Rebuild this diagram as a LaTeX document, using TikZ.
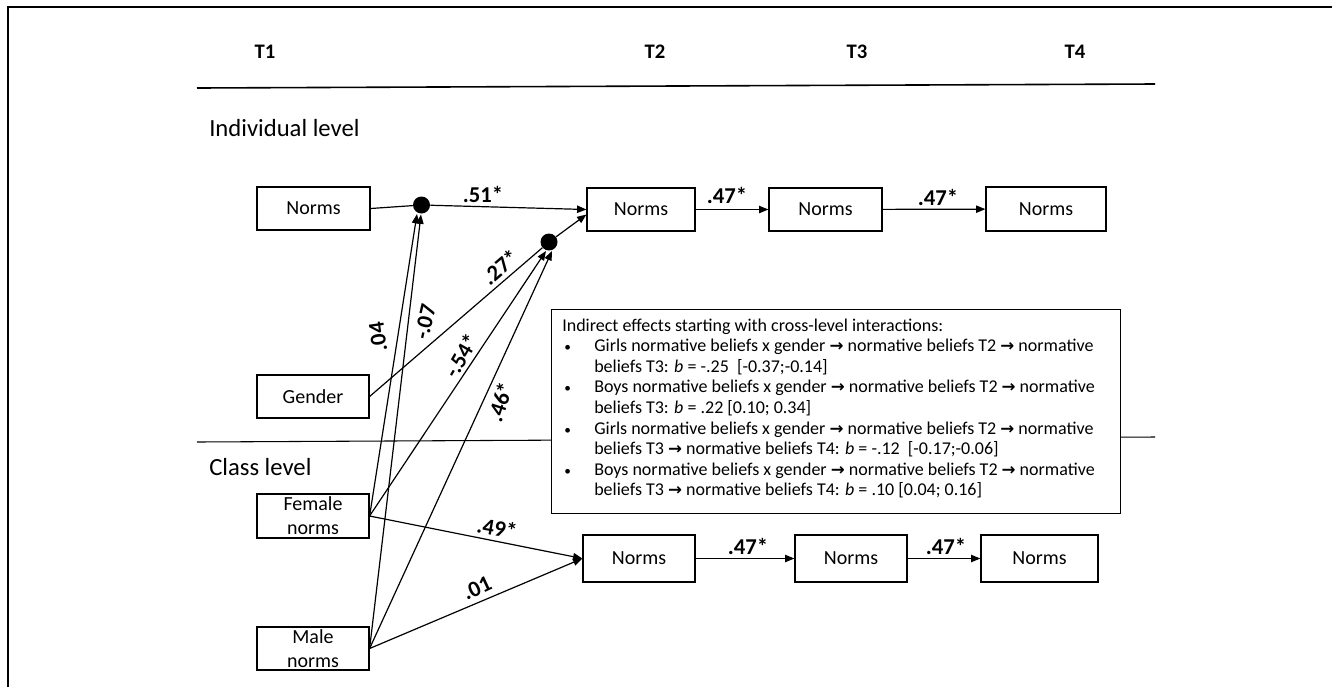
\documentclass[tikz,border=0pt]{standalone}
\usepackage{fontspec}
\setmainfont{Carlito}
\newfontfamily\arrowfont{DejaVu Sans}
\usetikzlibrary{arrows.meta,calc}
\newcommand{\rar}{{\arrowfont\bfseries\fontsize{12.5}{13}\selectfont →}}
\newcommand{\bul}{\makebox[24pt][l]{\hspace{1.5pt}\fontsize{10}{10}\selectfont•}}
\newcommand{\ind}{\hspace*{24pt}}
\begin{document}
\begin{tikzpicture}[x=0.75pt,y=-0.75pt,
  bx/.style={draw,line width=0.9pt,inner sep=0pt,align=center,font=\fontsize{15}{18}\selectfont},
  arr/.style={line width=0.9pt,-{Triangle[length=7pt,width=5.5pt]}},
  ln/.style={line width=0.9pt},
  lab/.style={font=\bfseries\fontsize{17}{19}\selectfont,inner sep=0pt},
  hd/.style={font=\bfseries\fontsize{15.5}{18}\selectfont,inner sep=0pt},
  lev/.style={font=\fontsize{18.5}{22}\selectfont,anchor=west,inner sep=0pt},
  dotc/.style={circle,fill=black,inner sep=0pt,minimum size=12.75pt}]
\useasboundingbox (0,0) rectangle (1332,687);
% frame
\draw[line width=1.6pt] (8,687) -- (8,7) -- (1332,7);
% headers
\node[hd] (t1) at (265,52) {T1};
\node[hd] (t2) at (655,52) {T2};
\node[hd] (t3) at (857,52) {T3};
\node[hd] (t4) at (1075,52) {T4};
\draw[line width=1.2pt] (197,88) -- (1155,84);
\node[lev] (il) at (209,128) {Individual level};
% class separator
\draw[line width=0.8pt] (197,442) -- (1155,437);
\node[lev] (cl) at (209,467) {Class level};
% boxes
\node[bx,minimum width=84.75pt,minimum height=32.25pt] (n1) at (313.5,208.5) {Norms};
\node[bx,minimum width=81pt,minimum height=32.25pt] (n2) at (641,209.5) {Norms};
\node[bx,minimum width=84.75pt,minimum height=32.25pt] (n3) at (825.5,209.5) {Norms};
\node[bx,minimum width=90pt,minimum height=33pt] (n4) at (1046,209) {Norms};
\node[bx,minimum width=84pt,minimum height=32.25pt] (gen) at (313,396.5) {Gender};
\node[bx,minimum width=84pt,minimum height=33pt] (fem) at (313,516) {Female\\norms};
\node[bx,minimum width=84pt,minimum height=32.25pt] (mal) at (313,648.5) {Male\\norms};
\node[bx,minimum width=84pt,minimum height=35.25pt] (c2) at (639,558.5) {Norms};
\node[bx,minimum width=84pt,minimum height=35.25pt] (c3) at (851,558.5) {Norms};
\node[bx,minimum width=87.75pt,minimum height=35.25pt] (c4) at (1039.5,558.5) {Norms};
% dots
\node[dotc] (d1) at (421.5,205) {};
\node[dotc] (d2) at (549,242) {};
\coordinate (d1l) at ($(d1)+(-4.5,9)$);
\coordinate (d1r) at ($(d1)+(-0.5,9.5)$);
\coordinate (d2l) at ($(d2)+(-3,9)$);
\coordinate (d2r) at ($(d2)+(3,9)$);
\coordinate (n2w) at ($(n2.west)+(0,5)$);
% connectors
\draw[ln] (n1.east) -- (d1);
\draw[arr] (d1) -- (n2.west);
\draw[arr] (d2) -- (n2w);
\draw[arr] (n2) -- (n3);
\draw[arr] (n3) -- (n4);
\draw[ln] (gen.east) -- (d2);
\draw[arr] (fem.east) -- (d1l);
\draw[arr] (mal.east) -- (d1r);
\draw[arr] (fem.east) -- (d2l);
\draw[arr] (mal.east) -- (d2r);
\draw[arr] (fem.east) -- (c2.west);
\draw[arr] (mal.east) -- (c2.west);
\draw[arr] (c2) -- (c3);
\draw[arr] (c3) -- (c4);
% info box
\node[draw,fill=white,line width=0.8pt,anchor=north west,inner sep=0pt,minimum width=426.75pt,minimum height=153pt] (ib) at (551,309) {};
\node[anchor=base west,inner sep=0pt,font=\fontsize{13.5}{15.45}\selectfont] (ibt) at (562,331) {%
\begin{tabular}[t]{@{}l@{}}
Indirect effects starting with cross-level interactions:\\
\bul Girls normative beliefs x gender \rar{} normative beliefs T2 \rar{} normative\\
\ind beliefs T3: \textit{b} = -.25 \ [-0.37;-0.14]\\
\bul Boys normative beliefs x gender \rar{} normative beliefs T2 \rar{} normative\\
\ind beliefs T3: \textit{b} = .22 [0.10; 0.34]\\
\bul Girls normative beliefs x gender \rar{} normative beliefs T2 \rar{} normative\\
\ind beliefs T3 \rar{} normative beliefs T4: \textit{b} = -.12 \ [-0.17;-0.06]\\
\bul Boys normative beliefs x gender \rar{} normative beliefs T2 \rar{} normative\\
\ind beliefs T3 \rar{} normative beliefs T4: \textit{b} = .10 [0.04; 0.16]
\end{tabular}};
% labels
\node[lab] (l51) at (483,194) {.51*};
\node[lab] (l47a) at (727,195) {.47*};
\node[lab] (l47b) at (938,197) {.47*};
\node[lab,rotate=40.7] (l27) at (500,267) {.27*};
\node[lab,rotate=98] (l04) at (378,337) {.04};
\node[lab,rotate=77] (l07) at (425,322) {-.07};
\node[lab,rotate=60] (l54) at (461,356) {-.54*};
\node[lab,rotate=72] (l46) at (500,402) {.46*};
\node[lab,rotate=-10] (l49) at (497,528) {.49*};
\node[lab,rotate=25] (l01) at (477,588) {.01};
\node[lab] (l47c) at (748,546) {.47*};
\node[lab] (l47d) at (946,546) {.47*};
\end{tikzpicture}
\end{document}
